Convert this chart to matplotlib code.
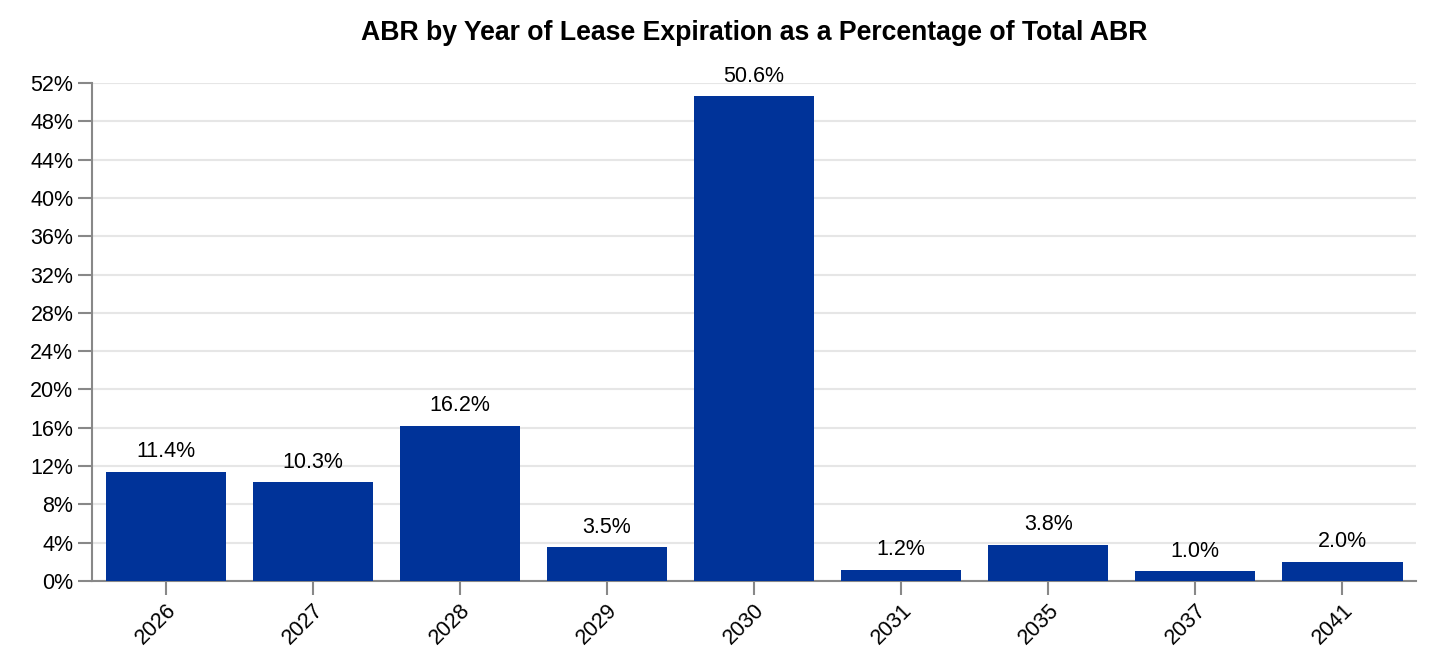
import numpy as np
import matplotlib.pyplot as plt

plt.rcParams['font.family'] = ['Liberation Sans', 'DejaVu Sans']

# Data
years = ["2026", "2027", "2028", "2029", "2030", "2031", "2035", "2037", "2041"]
pct = [11.4, 10.3, 16.2, 3.5, 50.6, 1.2, 3.8, 1.0, 2.0]
yticks = np.arange(0, 53, 4)

fig = plt.figure(figsize=(14.36, 6.66), dpi=100)
ax = fig.add_axes([0.0641, 0.1276, 0.922, 0.7478])

x = np.arange(len(years))
ax.bar(x, pct, width=0.816, color="#003399", zorder=3)
for xi, v in zip(x, pct):
    ax.text(xi, v + 1.0, f"{v:.1f}%", ha="center", va="bottom", fontsize=15.5)

ax.set_xlim(-0.5, len(years) - 0.5)
ax.set_ylim(0, 52)
ax.set_yticks(yticks)
ax.set_yticklabels([f"{t}%" for t in yticks], fontsize=15.5)
ax.set_xticks(x)
ax.set_xticklabels(years, rotation=45, ha="right", rotation_mode="anchor", fontsize=15.5)
ax.grid(axis="y", color="#e6e6e6", linewidth=1.5, zorder=0)

for s in ["top", "right"]:
    ax.spines[s].set_visible(False)
for s in ["left", "bottom"]:
    ax.spines[s].set_color("#888888")
    ax.spines[s].set_linewidth(1.5)
ax.tick_params(axis="both", length=10, color="#888888", width=1.5)

ax.set_title("ABR by Year of Lease Expiration as a Percentage of Total ABR",
             fontsize=19.2, fontweight="bold", pad=31)

fig.savefig("out.png", dpi=100)
